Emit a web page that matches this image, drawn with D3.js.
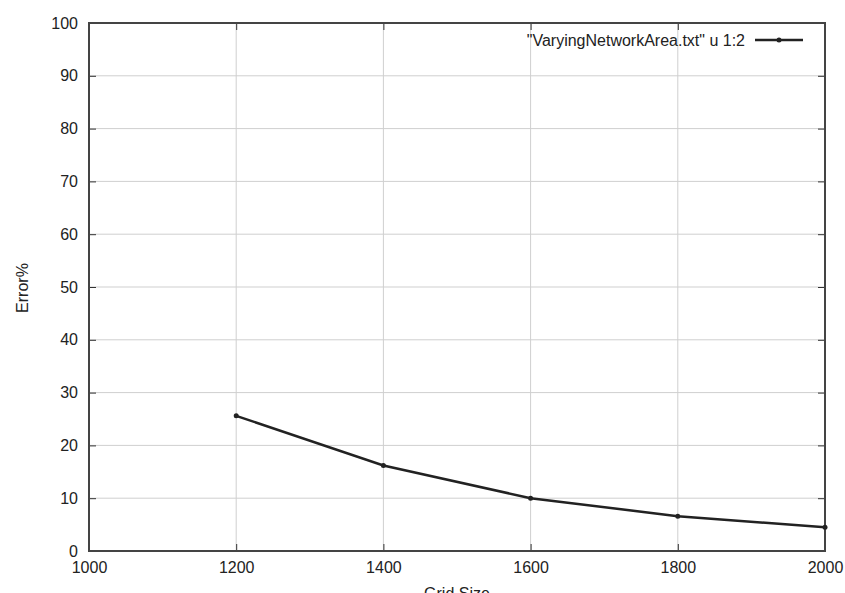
<!DOCTYPE html>
<html><head><meta charset="utf-8">
<script src="https://cdn.jsdelivr.net/npm/d3@7"></script>
<style>body{margin:0;background:#fff}text{font-family:"Liberation Sans",Arial,sans-serif;fill:#222}</style>
</head><body><svg id="c" width="845" height="593"></svg>
<script>
const gridSizes=[1200,1400,1600,1800,2000];
const errorPct=[25.6,16.2,10.0,6.6,4.5];
const xTicks=[1000,1200,1400,1600,1800,2000];
const yTicks=[0,10,20,30,40,50,60,70,80,90,100];
const legendLabel='"VaryingNetworkArea.txt" u 1:2';
const xLabel="Grid Size", yLabel="Error%";

const svg=d3.select("#c");
const L=89,R=825,T=23,B=551;
const FS=16;
const x=d3.scaleLinear().domain([1000,2000]).range([L,R]);
const y=d3.scaleLinear().domain([0,100]).range([B,T]);
const g=svg.append("g");
g.selectAll(".gx").data(xTicks.slice(1,-1)).enter().append("line")
 .attr("x1",d=>x(d)).attr("x2",d=>x(d)).attr("y1",T).attr("y2",B)
 .attr("stroke","#cfcfcf").attr("stroke-width",1);
g.selectAll(".gy").data(yTicks.slice(1,-1)).enter().append("line")
 .attr("y1",d=>y(d)).attr("y2",d=>y(d)).attr("x1",L).attr("x2",R)
 .attr("stroke","#cfcfcf").attr("stroke-width",1);
const ax=svg.append("g").attr("transform",`translate(0,${B})`)
 .call(d3.axisBottom(x).tickValues(xTicks).tickSize(-7).tickPadding(11).tickFormat(d3.format("d")));
const axT=svg.append("g").attr("transform",`translate(0,${T})`)
 .call(d3.axisTop(x).tickValues(xTicks).tickSize(-7).tickFormat(""));
const ay=svg.append("g").attr("transform",`translate(${L},0)`)
 .call(d3.axisLeft(y).tickValues(yTicks).tickSize(-7).tickPadding(11));
const ayR=svg.append("g").attr("transform",`translate(${R},0)`)
 .call(d3.axisRight(y).tickValues(yTicks).tickSize(-7).tickFormat(""));
[ax,axT,ay,ayR].forEach(a=>{a.select(".domain").remove();a.selectAll("line").attr("stroke","#333");a.selectAll("text").attr("font-size",FS).attr("fill","#222").attr("font-family","Liberation Sans, Arial, sans-serif");});
svg.append("rect").attr("x",L).attr("y",T).attr("width",R-L).attr("height",B-T)
 .attr("fill","none").attr("stroke","#444").attr("stroke-width",2);
const line=d3.line().x((d,i)=>x(gridSizes[i])).y(d=>y(d));
svg.append("path").datum(errorPct).attr("d",line).attr("fill","none").attr("stroke","#222").attr("stroke-width",2.5);
svg.selectAll(".pt").data(errorPct).enter().append("circle")
 .attr("cx",(d,i)=>x(gridSizes[i])).attr("cy",d=>y(d)).attr("r",2.5).attr("fill","#222");
svg.append("text").attr("x",745).attr("y",46).attr("text-anchor","end").attr("font-size",FS).text(legendLabel);
svg.append("line").attr("x1",755).attr("x2",803).attr("y1",40).attr("y2",40).attr("stroke","#222").attr("stroke-width",2.5);
svg.append("circle").attr("cx",779).attr("cy",40).attr("r",2.5).attr("fill","#222");
svg.append("text").attr("x",(L+R)/2).attr("y",599).attr("text-anchor","middle").attr("font-size",FS).text(xLabel);
svg.append("text").attr("transform","translate(28,288) rotate(-90)").attr("text-anchor","middle").attr("font-size",FS).text(yLabel);
</script></body></html>
